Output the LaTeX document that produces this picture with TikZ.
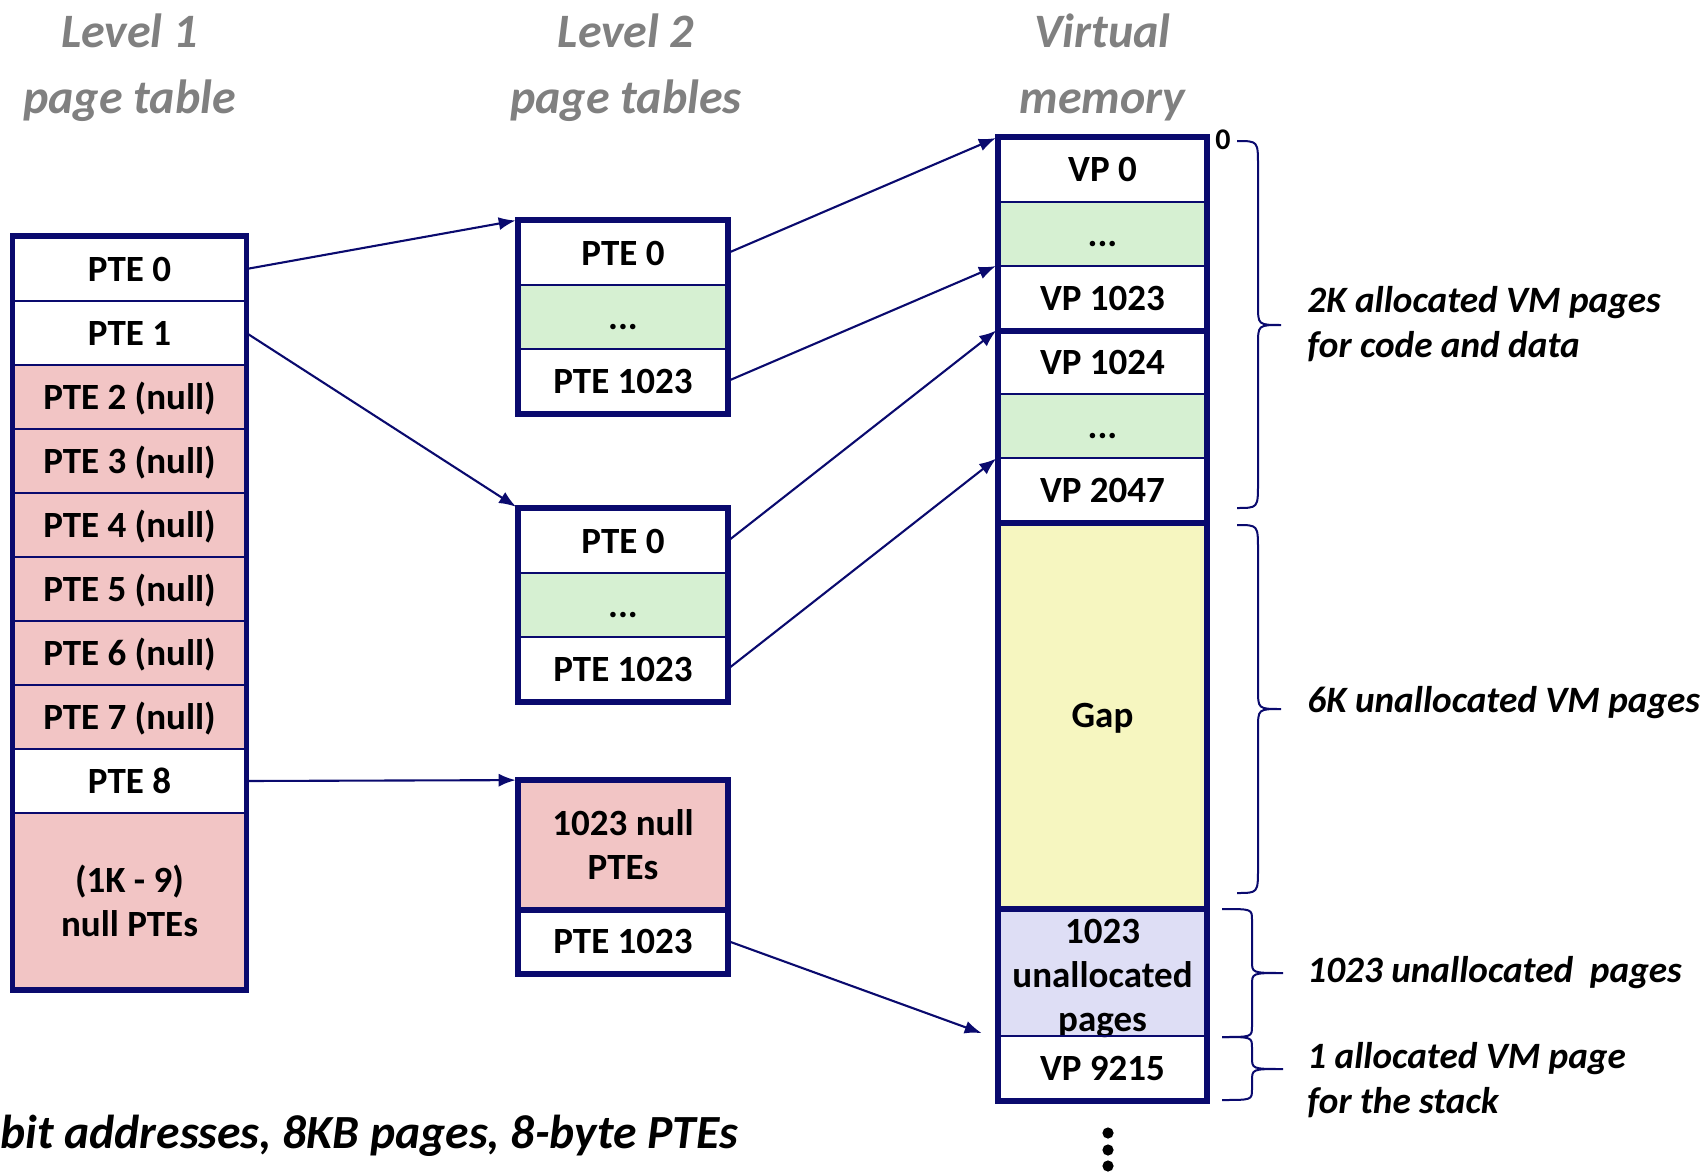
\documentclass[tikz,border=0pt]{standalone}
\usepackage{fontspec}
\setmainfont{Carlito}
\usetikzlibrary{arrows.meta}
\definecolor{navy}{RGB}{10,10,110}
\definecolor{nullpink}{RGB}{242,197,197}
\definecolor{okgreen}{RGB}{214,240,210}
\definecolor{gapyellow}{RGB}{246,246,192}
\definecolor{unlav}{RGB}{222,222,245}
\definecolor{titlegray}{RGB}{128,128,128}
\newcommand{\vmbrace}[8]{\draw[brace] (#1,#4) .. controls (#2,#4) .. (#2,#4+#7) -- (#2,#5-#8) .. controls (#2,#5) .. (#3,#5) .. controls (#2,#5) .. (#2,#5+#8) -- (#2,#6-#7) .. controls (#2,#6) .. (#1,#6);}
\tikzset{
  celltext/.style={inner sep=0pt, align=center, text=black, font=\bfseries\fontsize{18.5}{22}\selectfont},
  cell/.style={celltext, draw=navy, line width=0.9pt, minimum height=32pt},
  one/.style={text height=16pt, text depth=4pt},
  lone/.style={cell, minimum width=116pt},
  ltwo/.style={cell, minimum width=104pt},
  vmc/.style={cell, minimum width=103.5pt},
  frame/.style={draw=navy, line width=2.7pt},
  link/.style={draw=navy, line width=1.05pt, -{Latex[length=8.5pt,width=6.5pt]}, shorten >=1.2pt},
  brace/.style={draw=navy, line width=1pt},
  title/.style={text=titlegray, font=\bfseries\itshape\fontsize{24}{30}\selectfont, anchor=base, inner sep=0pt},
  note/.style={font=\bfseries\itshape\fontsize{18.6}{22.3}\selectfont, align=left, anchor=west, inner sep=0pt},
  dot/.style={circle, fill=black, inner sep=0pt, minimum size=5.6pt}
}
\begin{document}
\begin{tikzpicture}[x=0.5pt,y=-0.5pt]
\useasboundingbox (0,0) rectangle (1708,1172);
% titles
\node[title] (t1a) at (129.5,48) {Level 1};
\node[title] (t1b) at (129.5,114) {page table};
\node[title] (t2a) at (626,48) {Level 2};
\node[title] (t2b) at (626,114) {page tables};
\node[title] (t3a) at (1102.5,48) {Virtual};
\node[title] (t3b) at (1102.5,114) {memory};
% level 1
\node[lone,one] (p0) at (129.5,269) {PTE 0};
\node[lone,one] (p1) at (129.5,333) {PTE 1};
\node[lone,one,fill=nullpink] (p2) at (129.5,397) {PTE 2 (null)};
\node[lone,one,fill=nullpink] (p3) at (129.5,461) {PTE 3 (null)};
\node[lone,one,fill=nullpink] (p4) at (129.5,525) {PTE 4 (null)};
\node[lone,one,fill=nullpink] (p5) at (129.5,589) {PTE 5 (null)};
\node[lone,one,fill=nullpink] (p6) at (129.5,653) {PTE 6 (null)};
\node[lone,one,fill=nullpink] (p7) at (129.5,717) {PTE 7 (null)};
\node[lone,one] (p8) at (129.5,781) {PTE 8};
\node[lone,fill=nullpink,minimum height=88pt] (prest) at (129.5,901) {(1K - 9)\\null PTEs};
\draw[frame] (p0.north west) rectangle (prest.south east);
% level 2
\node[ltwo,one] (a0) at (623,253) {PTE 0};
\node[ltwo,one,fill=okgreen] (a1) at (623,317) {...};
\node[ltwo,one] (a2) at (623,381) {PTE 1023};
\draw[frame] (a0.north west) rectangle (a2.south east);
\node[ltwo,one] (b0) at (623,541) {PTE 0};
\node[ltwo,one,fill=okgreen] (b1) at (623,605) {...};
\node[ltwo,one] (b2) at (623,669) {PTE 1023};
\draw[frame] (b0.north west) rectangle (b2.south east);
\node[ltwo,fill=nullpink,minimum height=64pt] (c0) at (623,845) {1023 null\\PTEs};
\node[ltwo,one] (c1) at (623,941) {PTE 1023};
\draw[frame] (c0.north west) rectangle (c1.south east);
\draw[frame] (c0.south west) -- (c0.south east);
% virtual memory
\node[vmc,one] (v0) at (1102.5,170) {VP 0};
\node[vmc,one,fill=okgreen] (v1) at (1102.5,234) {...};
\node[vmc,one] (v2) at (1102.5,298) {VP 1023};
\node[vmc,one] (v3) at (1102.5,362) {VP 1024};
\node[vmc,one,fill=okgreen] (v4) at (1102.5,426) {...};
\node[vmc,one] (v5) at (1102.5,490) {VP 2047};
\node[vmc,one,fill=gapyellow,minimum height=193pt] (vgap) at (1102.5,715) {Gap};
\node[vmc,fill=unlav,minimum height=64pt] (vun) at (1102.5,972) {};
\node[celltext] (vunt) at (1102.5,978) {1023\\unallocated\\pages};
\node[vmc,one] (v9) at (1102.5,1068) {VP 9215};
\draw[frame] (v0.north west) rectangle (v9.south east);
\draw[frame] (v2.south west) -- (v2.south east);
\draw[frame] (v5.south west) -- (v5.south east);
\draw[frame] (vgap.south west) -- (vgap.south east);
\node[font=\bfseries\fontsize{15}{16}\selectfont, inner sep=0pt] (zero) at (1223,140) {0};
% dots
\node[dot] (d1) at (1108,1133) {};
\node[dot] (d2) at (1108,1150) {};
\node[dot] (d3) at (1108,1166) {};
% arrows
\coordinate (stk) at (984,1034);
\draw[link] (p0.east) -- (a0.north west);
\draw[link] (p1.east) -- (b0.north west);
\draw[link] (p8.east) -- (c0.north west);
\draw[link] (a0.east) -- (v0.north west);
\draw[link] (a2.east) -- (v2.north west);
\draw[link] (b0.east) -- (v3.north west);
\draw[link] (b2.east) -- (v5.north west);
\draw[link] (c1.east) -- (stk);
% braces
\vmbrace{1237}{1258}{1281}{141}{325}{508}{25}{20}
\vmbrace{1237}{1258}{1281}{525}{709}{893}{25}{20}
\vmbrace{1222}{1252}{1283}{909}{973}{1037}{11}{12}
\vmbrace{1222}{1252}{1283}{1037}{1069}{1100}{11}{12}
% notes
\node[note] (n1) at (1307,324) {2K allocated VM pages\\for code and data};
\node[note] (n2) at (1307,703) {6K unallocated VM pages};
\node[note] (n3) at (1307,973) {1023 unallocated\ \ pages};
\node[note] (n4) at (1307,1080) {1 allocated VM page\\for the stack};
\node[font=\bfseries\itshape\fontsize{23.8}{28}\selectfont, anchor=base west, inner sep=0pt] (foot) at (0,1148) {bit addresses, 8KB pages, 8-byte PTEs};
\end{tikzpicture}
\end{document}
